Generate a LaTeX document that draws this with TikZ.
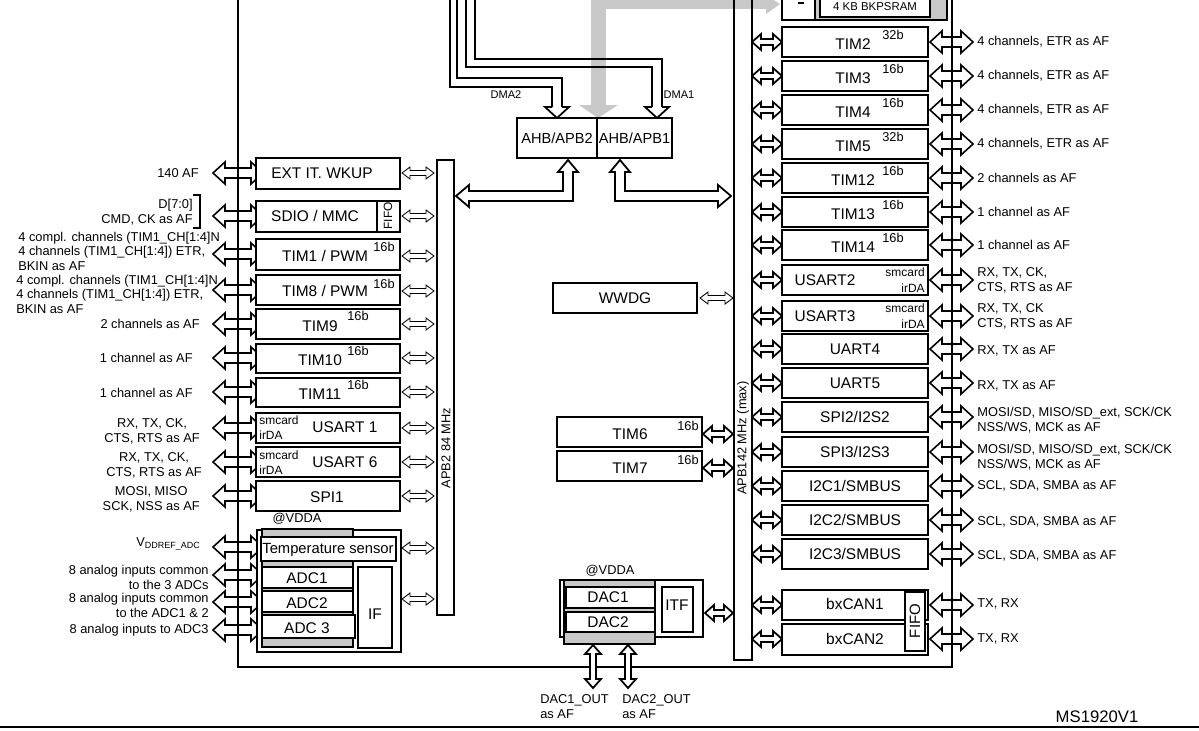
\documentclass[tikz,border=0pt]{standalone}
\usepackage{fontspec}
\setmainfont{Liberation Sans}
\begin{document}
\newcommand\HA[7][arr]{\draw[#1] (#2,#4) -- (#2+#7,#4-#6) -- (#2+#7,#4-#5) -- (#3-#7,#4-#5) -- (#3-#7,#4-#6) -- (#3,#4) -- (#3-#7,#4+#6) -- (#3-#7,#4+#5) -- (#2+#7,#4+#5) -- (#2+#7,#4+#6) -- cycle;}
\newcommand\VA[7][arr]{\draw[#1] (#2,#3) -- (#2-#6,#3+#7) -- (#2-#5,#3+#7) -- (#2-#5,#4-#7) -- (#2-#6,#4-#7) -- (#2,#4) -- (#2+#6,#4-#7) -- (#2+#5,#4-#7) -- (#2+#5,#3+#7) -- (#2+#6,#3+#7) -- cycle;}
\newcommand\bx[6][]{\node[box,#1,minimum width={(#4-#2)*0.02cm},minimum height={(#5-#3)*0.02cm}] (#6) at ({(#2+#4)/2},{(#3+#5)/2}) {};}
\begin{tikzpicture}[x=0.02cm,y=-0.02cm,
 arr/.style={draw=black,fill=white,line width=0.9pt,line join=miter},
 sarr/.style={draw=black,fill=white,line width=0.5pt},
 marr/.style={draw=black,fill=white,line width=1pt},
 box/.style={draw,line width=1.1pt,fill=white,inner sep=0pt},
 bt/.style={font=\fontsize{8.8}{10}\selectfont,inner sep=0pt},
 sup/.style={font=\fontsize{7.3}{8}\selectfont,inner sep=0pt},
 sm/.style={font=\fontsize{6.8}{8}\selectfont,inner sep=0pt},
 lbl/.style={font=\fontsize{7.3}{8.6}\selectfont,inner sep=0pt},
 bus/.style={line width=1.6pt}]
\useasboundingbox (0,0) rectangle (1199,730);
\definecolor{gr}{RGB}{200,200,200}
% grey arrow
\fill[gr] (591,-5) rectangle (606,106);
\fill[gr] (579,105) -- (618,105) -- (598,118) -- cycle;
\fill[gr] (591,-5) rectangle (766,9);
\fill[gr] (766,-5) -- (766,14) -- (780,4) -- cycle;
% DMA lines
\draw[line width=1pt] (450,-5) -- (450,87) -- (552,87) -- (552,107);
\draw[line width=1pt] (457,-5) -- (457,78) -- (562,78) -- (562,107);
\draw[marr] (552,107) -- (545,107) -- (557,118) -- (569,107) -- (562,107);
\draw[line width=1pt] (466,-5) -- (466,67) -- (652,67) -- (652,107);
\draw[line width=1pt] (475,-5) -- (475,59) -- (662,59) -- (662,107);
\draw[marr] (652,107) -- (645,107) -- (657,118) -- (669,107) -- (662,107);
\node[font=\fontsize{6.3}{7}\selectfont] (dma2) at (506,95) {DMA2};
\node[font=\fontsize{6.3}{7}\selectfont] (dma1) at (679,95) {DMA1};
% AHB boxes
\bx{517}{118}{597}{158}{ahb2}\node[bt,font=\fontsize{8.3}{9}\selectfont] at (ahb2) {AHB/APB2};
\bx{597}{118}{672}{158}{ahb1}\node[bt,font=\fontsize{8.3}{9}\selectfont] at (ahb1) {AHB/APB1};
\draw[marr] (568,160) -- (578,172) -- (573,172) -- (573,201) -- (469,201) -- (469,207) -- (456,196) -- (469,185) -- (469,191) -- (563,191) -- (563,172) -- (558,172) -- cycle;
\draw[marr] (620,160) -- (630,172) -- (625,172) -- (625,191) -- (718,191) -- (718,185) -- (731,196) -- (718,207) -- (718,201) -- (615,201) -- (615,172) -- (610,172) -- cycle;
% frame
\draw[bus] (238,-5) -- (238,667) -- (952,667) -- (952,-5);
\draw[line width=0.8pt] (0,727) -- (1199,727);
\node[font=\fontsize{9.5}{11}\selectfont,anchor=south] (ms) at (1097,729) {MS1920V1};
% APB bars
\draw[line width=0.8pt] (437,160) rectangle (454,615);
\node[lbl,rotate=90] (apb2) at (446,448) {APB2 84 MHz};
\draw[line width=0.8pt] (734,-5) rectangle (752,660);
\node[lbl,rotate=90] (apb1) at (743,438) {APB142 MHz (max)};
% BKPSRAM
\fill[gr] (815,-5) rectangle (947,20);
\draw[line width=1pt] (782,-5) rectangle (947,20);
\draw[line width=1pt] (815,-5) -- (815,20);
\draw[line width=0.6pt] (798,3) -- (804,3);
\draw[line width=1pt,fill=white] (820,-5) rectangle (930,17);
\node[font=\fontsize{6.5}{7}\selectfont] (bk) at (875,7) {4 KB BKPSRAM};
% left boxes
\foreach \y/\n in {173/ext,216/sdio,254/t1,290/t8,324/t9,358/t10,392/t11,428/u1,462/u6,496/s1,547/ts,575/a1,602/a2,630/a3}{
 \HA{213}{263}{\y}{5}{11}{12}}
\draw[bus] (238,-5) -- (238,667);
\bx{256}{158}{400}{189}{EXT}\node[bt] at (322,173) {EXT IT. WKUP};
\bx{256}{201}{400}{232}{SDIO}\node[bt] at (315,216) {SDIO / MMC};
\draw[line width=1pt] (377,201) -- (377,232);\node[sm,rotate=90] at (388,216) {FIFO};
\bx{256}{239}{400}{270}{TIM1}\node[bt] at (325,256) {TIM1 / PWM};\node[sup] at (384,247) {16b};
\bx{256}{275}{400}{305}{TIM8}\node[bt] at (325,291) {TIM8 / PWM};\node[sup] at (384,284) {16b};
\bx{256}{309}{400}{339}{TIM9}\node[bt] at (320,326) {TIM9};\node[sup] at (358,316) {16b};
\bx{256}{344}{400}{373}{TIM10}\node[bt] at (320,360) {TIM10};\node[sup] at (358,351) {16b};
\bx{256}{378}{400}{407}{TIM11}\node[bt] at (320,394) {TIM11};\node[sup] at (358,385) {16b};
\bx{256}{413}{400}{443}{US1}\node[bt] at (345,427) {USART 1};\node[sm,anchor=west] at (259,420) {smcard};\node[sm,anchor=west] at (259,435) {irDA};
\bx{256}{447}{400}{477}{US6}\node[bt] at (345,462) {USART 6};\node[sm,anchor=west] at (259,455) {smcard};\node[sm,anchor=west] at (259,470) {irDA};
\bx{256}{481}{400}{511}{SPI1}\node[bt] at (327,497) {SPI1};
\node[sm,font=\fontsize{7.3}{8}\selectfont] (vdda1) at (297,519) {@VDDA};
\draw[line width=0.6pt,fill=white] (257,530) rectangle (401,652);
\fill[gr] (262,529) rectangle (353,647);
\draw[line width=0.6pt] (262,529) rectangle (353,647);
\bx[line width=0.8pt]{261}{537}{396}{561}{TS}\node[bt,font=\fontsize{8.4}{10}\selectfont] at (328,550) {Temperature sensor};
\bx[line width=0.8pt]{262}{567}{353}{588}{ADC1}\node[bt] at (307,578) {ADC1};
\bx[line width=0.8pt]{262}{591}{353}{612}{ADC2}\node[bt] at (307,603) {ADC2};
\bx[line width=0.8pt]{262}{615}{355}{638}{ADC3}\node[bt] at (307,628) {ADC 3};
\bx[line width=0.8pt]{358}{567}{392}{648}{IF}\node[bt] at (375,614) {IF};
\foreach \y in {173,216,256,291,324,358,392,428,462,496,548,599}{\HA[sarr]{402}{434}{\y}{2.5}{6}{8}}
% left labels
\node[lbl,anchor=east] at (199,173) {140 AF};
\node[lbl,anchor=east,align=right] at (193,212) {D[7:0]\\CMD, CK as AF};
\draw[line width=0.6pt] (193,195) -- (200,195) -- (200,228) -- (193,228);
\node[lbl,anchor=west,align=left,font=\fontsize{7.3}{8.3}\selectfont] at (18,251) {4 compl. channels (TIM1\_CH[1:4]N\\4 channels (TIM1\_CH[1:4]) ETR,\\BKIN as AF};
\node[lbl,anchor=west,align=left,font=\fontsize{7.3}{8.3}\selectfont] at (16,294) {4 compl. channels (TIM1\_CH[1:4]N\\4 channels (TIM1\_CH[1:4]) ETR,\\BKIN as AF};
\node[lbl,anchor=east] at (200,324) {2 channels as AF};
\node[lbl,anchor=east] at (193,358) {1 channel as AF};
\node[lbl,anchor=east] at (193,393) {1 channel as AF};
\node[lbl,anchor=east,align=center] at (200,431) {RX, TX, CK,\\CTS, RTS as AF};
\node[lbl,anchor=east,align=center] at (202,465) {RX, TX, CK,\\CTS, RTS as AF};
\node[lbl,anchor=east,align=center] at (200,499) {MOSI, MISO\\SCK, NSS as AF};
\node[lbl,anchor=east] at (201,544) {V\textsubscript{DDREF\_ADC}};
\node[lbl,anchor=east,align=right] at (209,577) {8 analog inputs common\\to the 3 ADCs};
\node[lbl,anchor=east,align=right] at (209,605) {8 analog inputs common\\to the ADC1 \& 2};
\node[lbl,anchor=east] at (209,630) {8 analog inputs to ADC3};
% middle
\bx{553}{283}{697}{313}{WWDG}\node[bt] at (625,298) {WWDG};
\HA[sarr]{700}{733}{298}{2.5}{6}{8}
\bx{557}{417}{702}{447}{TIM6}\node[bt] at (630,434) {TIM6};\node[sup] at (688,426) {16b};
\bx{557}{451}{702}{481}{TIM7}\node[bt] at (630,468) {TIM7};\node[sup] at (688,460) {16b};
\HA[marr]{703}{733}{434}{3}{8}{9}
\HA[marr]{703}{733}{468}{3}{8}{9}
\node[sm,font=\fontsize{7.3}{8}\selectfont] (vdda2) at (610,571) {@VDDA};
\draw[line width=1pt,fill=white] (560,580) rectangle (703,637);
\fill[gr] (564,580) rectangle (655,644);
\draw[line width=0.6pt] (564,580) rectangle (655,644);
\bx{566}{587}{655}{608}{DAC1}\node[bt] at (608,597) {DAC1};
\bx{566}{612}{655}{632}{DAC2}\node[bt] at (608,622) {DAC2};
\bx{662}{587}{693}{632}{ITF}\node[bt] at (677,605) {ITF};
\HA[marr]{705}{733}{613}{3}{8}{9}
\VA[marr]{593}{645}{688}{3}{8}{9}
\VA[marr]{628}{645}{688}{3}{8}{9}
\node[lbl,anchor=west,align=left] at (540,707) {DAC1\_OUT\\as AF};
\node[lbl,anchor=west,align=left] at (622,707) {DAC2\_OUT\\as AF};
% right boxes
\foreach \y in {42,76,110,144,178,212,245,280,316,349,383,417,452,486,520,554,605,639}{
 \HA{930}{973}{\y}{5}{11}{12}
 \HA[marr]{752}{782}{\y}{3}{8}{9}}
\draw[bus] (952,-5) -- (952,667);
\foreach \a/\b/\n/\t/\s in {27/57/TIM2/TIM2/32b,61/91/TIM3/TIM3/16b,95/125/TIM4/TIM4/16b,129/159/TIM5/TIM5/32b,163/193/TIM12/TIM12/16b,197/227/TIM13/TIM13/16b,230/260/TIM14/TIM14/16b}{
 \bx{782}{\a}{928}{\b}{\n}\node[bt] at (853,{(\a+\b)/2+2}) {\t};\node[sup] at (893,{\a+8}) {\s};}
\foreach \a/\b/\n/\t in {334/364/UART4/{UART4},368/398/UART5/{UART5},402/432/SPI2/{SPI2/I2S2},437/467/SPI3/{SPI3/I2S3},471/501/I2C1/{I2C1/SMBUS},505/535/I2C2/{I2C2/SMBUS},539/569/I2C3/{I2C3/SMBUS}}{
 \bx{782}{\a}{928}{\b}{\n}\node[bt] at (855,{(\a+\b)/2}) {\t};}
\bx{782}{265}{928}{295}{US2}\node[bt] at (825,280) {USART2};\node[sm,anchor=east] at (925,272) {smcard};\node[sm,anchor=east] at (925,288) {irDA};
\bx{782}{301}{928}{331}{US3}\node[bt] at (825,316) {USART3};\node[sm,anchor=east] at (925,308) {smcard};\node[sm,anchor=east] at (925,324) {irDA};
\bx{782}{590}{928}{620}{CAN1}\node[bt] at (855,604) {bxCAN1};
\bx{782}{624}{928}{655}{CAN2}\node[bt] at (855,639) {bxCAN2};
\draw[line width=1.1pt,fill=white] (905,592) rectangle (925,651);
\node[bt,rotate=90,font=\fontsize{8.5}{9}\selectfont] at (915,621) {FIFO};
% right labels
\foreach \y/\t in {42/{4 channels, ETR as AF},76/{4 channels, ETR as AF},110/{4 channels, ETR as AF},144/{4 channels, ETR as AF},178/{2 channels as AF},212/{1 channel  as AF},245/{1 channel  as AF},351/{RX, TX as AF},386/{RX, TX as AF},486/{SCL, SDA, SMBA as AF},522/{SCL, SDA, SMBA as AF},556/{SCL, SDA, SMBA as AF},604/{TX, RX},639/{TX, RX}}{
 \node[lbl,anchor=west] at (977,\y) {\t};}
\node[lbl,anchor=west,align=left] at (977,280) {RX, TX, CK,\\CTS, RTS as AF};
\node[lbl,anchor=west,align=left] at (977,316) {RX, TX, CK\\CTS, RTS as AF};
\node[lbl,anchor=west,align=left] at (977,420) {MOSI/SD, MISO/SD\_ext, SCK/CK\\NSS/WS, MCK as AF};
\node[lbl,anchor=west,align=left] at (977,457) {MOSI/SD, MISO/SD\_ext, SCK/CK\\NSS/WS, MCK as AF};
\end{tikzpicture}
\end{document}
